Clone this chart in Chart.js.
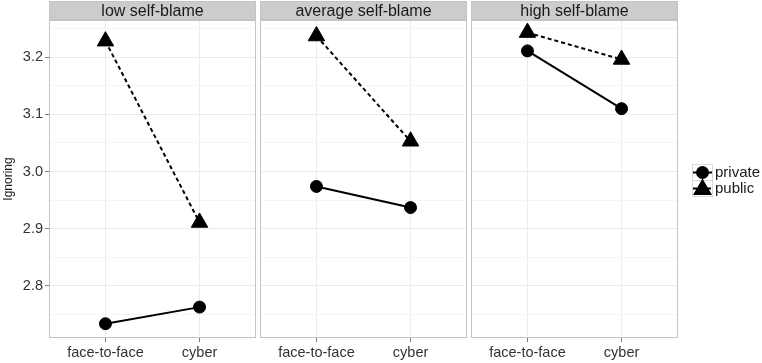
<!DOCTYPE html>
<html>
<head>
<meta charset="utf-8">
<script src="https://cdn.jsdelivr.net/npm/chart.js@4"></script>
<style>
  html, body { margin: 0; padding: 0; background: #fff; }
  #wrap { position: relative; width: 762px; height: 363px; overflow: hidden; }
  #wrap canvas { position: absolute; top: 0; }
</style>
</head>
<body>
<div id="wrap">
  <canvas id="c1" style="left:0px"></canvas>
  <canvas id="c2" style="left:259px"></canvas>
  <canvas id="c3" style="left:470px"></canvas>
</div>
<script>
// data
const panels = ['low self-blame', 'average self-blame', 'high self-blame'];
const modes = ['face-to-face', 'cyber'];
const seriesNames = ['private', 'public'];
const privateValues = [
    [2.734, 2.763],
    [2.974, 2.937],
    [3.211, 3.110]
];
const publicValues = [
    [3.228, 2.911],
    [3.237, 3.053],
    [3.243, 3.196]
];
const yTicks = [2.75, 2.8, 2.85, 2.9, 2.95, 3.0, 3.05, 3.1, 3.15, 3.2, 3.25];
const yLabelTicks = [2.8, 2.9, 3.0, 3.1, 3.2];
const yMin = 2.709, yMax = 3.265;

const FONT = "'Liberation Sans', Arial, sans-serif";

function isMajor(v) {
    return yLabelTicks.some(t => Math.abs(t - v) < 1e-6);
}

// draws the grey strip on top and the panel border
const panelDeco = {
    id: 'panelDeco',
    beforeDraw(chart, args, opts) {
        const { ctx, chartArea: a } = chart;
        ctx.save();
        ctx.fillStyle = '#cccccc';
        ctx.fillRect(a.left, 1, a.right - a.left, a.top - 1);
        ctx.strokeStyle = '#c4c4c4';
        ctx.lineWidth = 1;
        ctx.strokeRect(a.left + 0.5, 1.5, a.right - a.left - 1, a.top - 2);
        ctx.fillStyle = '#1a1a1a';
        ctx.font = '16px ' + FONT;
        ctx.textAlign = 'center';
        ctx.textBaseline = 'middle';
        ctx.fillText(opts.text, (a.left + a.right) / 2, (a.top + 1) / 2 + 1);
        ctx.restore();
    },
    afterDraw(chart) {
        const { ctx, chartArea: a } = chart;
        ctx.save();
        ctx.strokeStyle = '#c4c4c4';
        ctx.lineWidth = 1;
        ctx.strokeRect(a.left + 0.5, a.top + 0.5, a.right - a.left - 1, a.bottom - a.top - 1);
        ctx.restore();
    }
};

// ggplot-like legend in the right margin
const sideLegend = {
    id: 'sideLegend',
    afterDraw(chart, args, opts) {
        if (!opts.show) return;
        const ctx = chart.ctx;
        const x0 = 222, w = 20, h = 16;
        const tops = [164, 180];
        chart.data.datasets.forEach((ds, i) => {
            const y = tops[i];
            ctx.save();
            ctx.strokeStyle = '#d9d9d9';
            ctx.lineWidth = 1;
            ctx.strokeRect(x0 + 0.5, y + 0.5, w, h);
            ctx.strokeStyle = '#000';
            ctx.lineWidth = 2;
            ctx.setLineDash(ds.borderDash || []);
            ctx.beginPath();
            ctx.moveTo(x0 + 1, y + h / 2 + 0.5);
            ctx.lineTo(x0 + w, y + h / 2 + 0.5);
            ctx.stroke();
            ctx.setLineDash([]);
            ctx.fillStyle = '#000';
            Chart.helpers.drawPoint(ctx, {
                pointStyle: ds.pointStyle,
                radius: ds.pointStyle === 'triangle' ? 9 : 5.5,
                borderWidth: 1
            }, x0 + w / 2 + 0.5, y + h / 2 + (ds.pointStyle === 'triangle' ? 1.5 : 0.5));
            ctx.fillStyle = '#1a1a1a';
            ctx.font = '15px ' + FONT;
            ctx.textAlign = 'left';
            ctx.textBaseline = 'middle';
            ctx.fillText(ds.label, x0 + w + 3, y + h / 2 + 1);
            ctx.restore();
        });
    }
};

function makeChart(id, idx, width, padLeft, padRight, showY, showLegend) {
    const canvas = document.getElementById(id);
    canvas.style.width = width + 'px';
    canvas.style.height = '363px';
    canvas.width = width;
    canvas.height = 363;
    const toPoints = vals => vals.map((v, i) => ({ x: i + 1, y: v }));
    return new Chart(canvas.getContext('2d'), {
        type: 'line',
        data: {
            datasets: [{
                label: seriesNames[0],
                data: toPoints(privateValues[idx]),
                borderColor: '#000',
                backgroundColor: '#000',
                borderWidth: 2,
                pointStyle: 'circle',
                pointRadius: 6,
                pointBorderWidth: 1
            }, {
                label: seriesNames[1],
                data: toPoints(publicValues[idx]),
                borderColor: '#000',
                backgroundColor: '#000',
                borderWidth: 2,
                borderDash: [4, 3],
                pointStyle: 'triangle',
                pointRadius: 9.5,
                pointBorderWidth: 1
            }]
        },
        options: {
            responsive: false,
            animation: false,
            layout: {
                autoPadding: false,
                padding: { top: 20, left: padLeft, right: padRight, bottom: 0 }
            },
            plugins: {
                legend: { display: false },
                tooltip: { enabled: false },
                panelDeco: { text: panels[idx] },
                sideLegend: { show: showLegend }
            },
            scales: {
                x: {
                    type: 'linear',
                    min: 0.4,
                    max: 2.6,
                    afterBuildTicks: s => { s.ticks = modes.map((m, i) => ({ value: i + 1 })); },
                    afterFit: s => { s.height = 25; s.paddingLeft = 0; s.paddingRight = 0; },
                    border: { display: false },
                    grid: { color: '#ebebeb', tickColor: '#7f7f7f', tickLength: 4, lineWidth: 1 },
                    ticks: {
                        callback: v => modes[v - 1],
                        color: '#333333',
                        font: { family: FONT, size: 14.5 },
                        padding: 2,
                        maxRotation: 0
                    }
                },
                y: {
                    min: yMin,
                    max: yMax,
                    afterBuildTicks: s => { s.ticks = yTicks.map(v => ({ value: v })); },
                    afterFit: s => { s.width = showY ? 49 : 0; s.paddingTop = 0; s.paddingBottom = 0; },
                    border: { display: false },
                    grid: {
                        color: ctx => isMajor(ctx.tick.value) ? '#ebebeb' : '#f5f5f5',
                        tickColor: ctx => isMajor(ctx.tick.value) ? '#7f7f7f' : 'rgba(0,0,0,0)',
                        drawTicks: showY,
                        tickLength: 4
                    },
                    ticks: {
                        display: showY,
                        callback: v => isMajor(v) ? v.toFixed(1) : '',
                        color: '#333333',
                        font: { family: FONT, size: 14.5 },
                        padding: 2
                    },
                    title: {
                        display: showY,
                        text: 'Ignoring',
                        color: '#1a1a1a',
                        font: { family: FONT, size: 12 },
                        padding: { top: 1, bottom: 0 }
                    }
                }
            }
        },
        plugins: [panelDeco, sideLegend]
    });
}

makeChart('c1', 0, 257, 0, 1, true, false);
makeChart('c2', 1, 209, 1, 1, false, false);
makeChart('c3', 2, 292, 1, 84, false, true);
</script>
</body>
</html>
